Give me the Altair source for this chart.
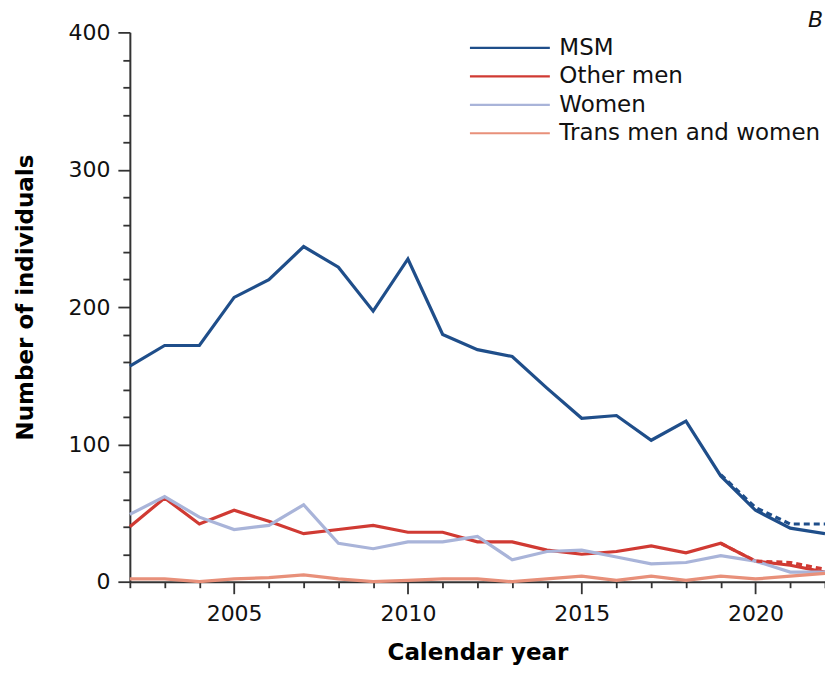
import altair as alt
import pandas as pd

years = list(range(2002, 2023))
groups = ["MSM", "Other men", "Women", "Trans men and women"]
colors = ["#1f4e8a", "#d03a33", "#a9b4d9", "#e8907a"]

msm = [157, 172, 172, 207, 220, 244, 229, 197, 235, 180, 169, 164, 141, 119, 121, 103, 117, 77, 52, 39, 35]
other_men = [40, 61, 42, 52, 44, 35, 38, 41, 36, 36, 29, 29, 23, 20, 22, 26, 21, 28, 15, 12, 7]
women = [49, 62, 47, 38, 41, 56, 28, 24, 29, 29, 33, 16, 22, 23, 18, 13, 14, 19, 15, 7, 7]
trans = [2, 2, 0, 2, 3, 5, 2, 0, 1, 2, 2, 0, 2, 4, 1, 4, 1, 4, 2, 4, 6]

# adjusted (dashed) estimates for the last years
adj_years = [2019, 2020, 2021, 2022]
msm_adj = [78, 54, 42, 42]
other_men_adj = [28, 15, 14, 9]

panel_label = ["B"]

rows = []
for g, vals in zip(groups, [msm, other_men, women, trans]):
    for y, v in zip(years, vals):
        rows.append({"year": y, "n": v, "group": g})
df = pd.DataFrame(rows)

rows2 = []
for g, vals in zip(["MSM", "Other men"], [msm_adj, other_men_adj]):
    for y, v in zip(adj_years, vals):
        rows2.append({"year": y, "n": v, "group": g})
df2 = pd.DataFrame(rows2)

FONT = "DejaVu Sans"
AX = "#333333"

x = alt.X(
    "year:Q",
    scale=alt.Scale(domain=[2002, 2022], nice=False, zero=False),
    axis=alt.Axis(
        title="Calendar year",
        values=years,
        labelExpr="datum.value % 5 === 0 ? datum.label : ''",
        format="d",
        tickSize={"condition": {"test": "datum.value % 5 === 0", "value": 12}, "value": 6},
        titlePadding=17,
        labelPadding=10,
    ),
)
y = alt.Y(
    "n:Q",
    scale=alt.Scale(domain=[0, 400], nice=False),
    axis=alt.Axis(
        title="Number of individuals",
        values=list(range(0, 401, 20)),
        labelExpr="datum.value % 100 === 0 ? datum.label : ''",
        tickSize={"condition": {"test": "datum.value % 100 === 0", "value": 12}, "value": 7},
        titleX=-92,
        titleY=265,
        titleAngle=270,
        titleAlign="center",
        labelPadding=8,
    ),
)
color = alt.Color(
    "group:N",
    scale=alt.Scale(domain=groups, range=colors),
    sort=groups,
    legend=alt.Legend(
        title=None,
        orient="none",
        legendX=369,
        legendY=4,
        symbolType="M-8,0H8",
        symbolSize=100,
        symbolStrokeWidth=2.2,
        labelFont=FONT,
        labelFontSize=23,
        labelColor="#111111",
        labelLimit=400,
        rowPadding=4.5,
        labelOffset=38,
    ),
)

solid = alt.Chart(df).mark_line(strokeWidth=3.2).encode(x=x, y=y, color=color)
dashed = alt.Chart(df2).mark_line(strokeWidth=3.2, strokeDash=[6, 4]).encode(
    x=x, y=y, color=alt.Color("group:N", scale=alt.Scale(domain=groups, range=colors), legend=None)
)
label = alt.Chart(pd.DataFrame({"t": panel_label})).mark_text(
    font=FONT, fontSize=22, fontStyle="italic", align="right", baseline="alphabetic", color="#111111"
).encode(text="t:N", x=alt.value(694), y=alt.value(-5))

chart = (
    alt.layer(solid, dashed, label)
    .properties(
        width=696,
        height=550,
        autosize=alt.AutoSizeParams(type="none"),
        padding={"left": 122, "top": 24, "right": 0, "bottom": 85},
    )
    .configure_view(stroke=None)
    .configure_axis(
        labelFont=FONT,
        labelFontSize=22,
        labelColor="#111111",
        titleFont=FONT,
        titleFontSize=23,
        titleFontWeight="bold",
        titleColor="#000000",
        domainColor=AX,
        domainWidth=2,
        tickColor=AX,
        tickWidth=1.8,
        grid=False,
    )
)

chart.save("out.html", embed_options={"renderer": "svg", "actions": False})
